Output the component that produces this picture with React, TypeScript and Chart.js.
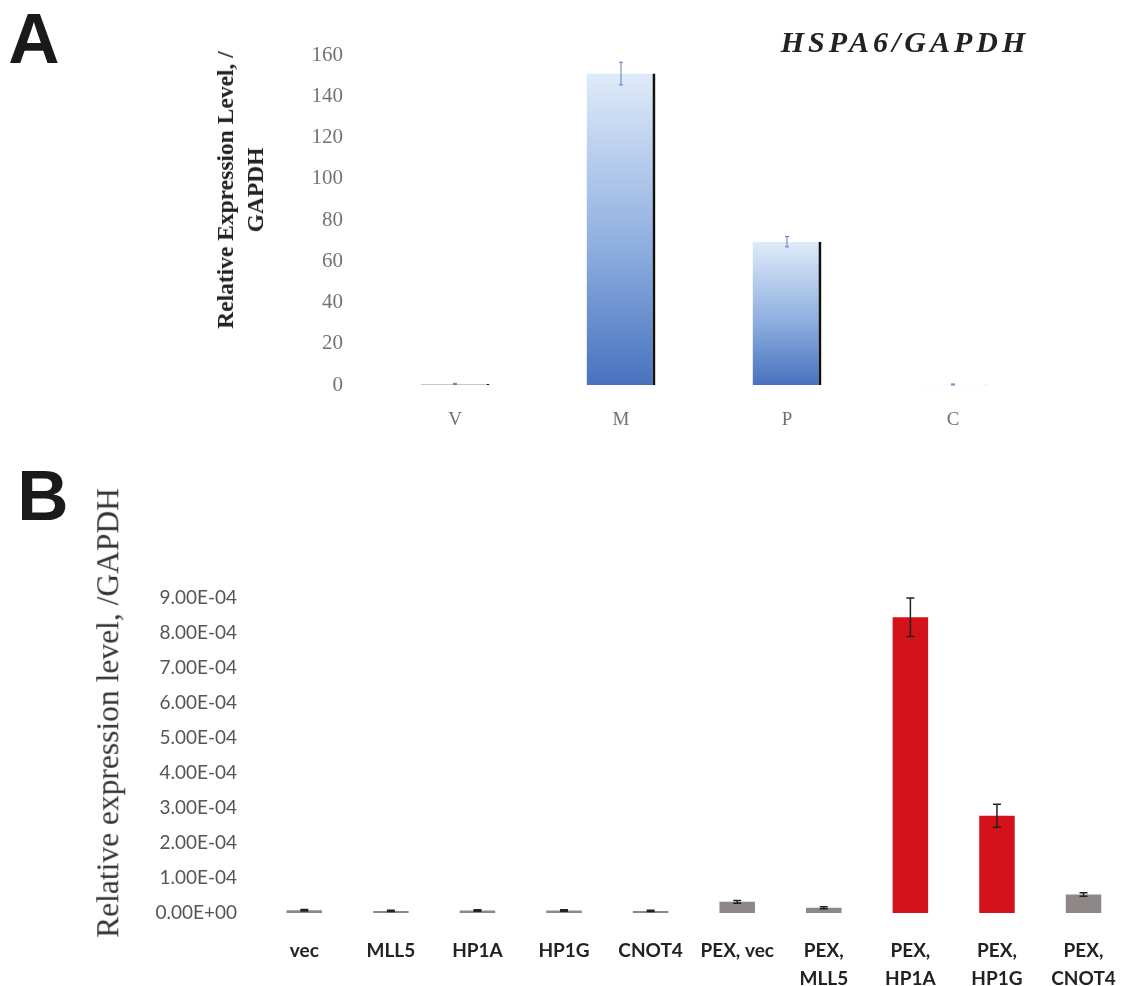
import React, { useEffect, useRef } from 'react';
import { Chart, registerables } from 'chart.js';

Chart.register(...registerables);

// ---------- Panel A data ----------
const categoriesA = ['V', 'M', 'P', 'C'];
const valuesA = [0.5, 151, 69.5, 0.1];
const errorsA = [0.3, 5.5, 2.5, 0.4];
const yMaxA = 160;
const yStepA = 20;

// ---------- Panel B data ----------
const categoriesB: (string | string[])[] = [
  'vec',
  'MLL5',
  'HP1A',
  'HP1G',
  'CNOT4',
  'PEX, vec',
  ['PEX,', 'MLL5'],
  ['PEX,', 'HP1A'],
  ['PEX,', 'HP1G'],
  ['PEX,', 'CNOT4'],
];
const valuesB = [8e-6, 6e-6, 7e-6, 7e-6, 6e-6, 3.2e-5, 1.5e-5, 8.45e-4, 2.78e-4, 5.3e-5];
const errorsB = [2e-6, 2e-6, 2e-6, 2e-6, 2e-6, 4e-6, 3e-6, 5.5e-5, 3.3e-5, 5e-6];
const yMaxB = 9e-4;
const yStepB = 1e-4;

// styles
const GRAY_B = '#8e8787';
const RED_B = '#d3121a';
const barColorsB = valuesB.map((_, i) => (i === 7 || i === 8 ? RED_B : GRAY_B));

const fmtExp = (v: number) => {
  if (Math.abs(v) < 1e-12) return '0.00E+00';
  const e = Math.floor(Math.log10(Math.abs(v)) + 1e-9);
  const m = v / Math.pow(10, e);
  return m.toFixed(2) + 'E' + (e < 0 ? '-' : '+') + String(Math.abs(e)).padStart(2, '0');
};

const errorBarPlugin = {
  id: 'errorBars',
  afterDatasetsDraw(chart: any, _args: any, opts: any) {
    const errs: number[] = opts.errors;
    if (!errs) return;
    const meta = chart.getDatasetMeta(0);
    const yScale = chart.scales.y;
    const data = chart.data.datasets[0].data as number[];
    const ctx = chart.ctx;
    ctx.save();
    ctx.strokeStyle = opts.color;
    ctx.lineWidth = opts.width;
    meta.data.forEach((bar: any, i: number) => {
      const v = data[i];
      const e = errs[i];
      const x = bar.x;
      const yHi = yScale.getPixelForValue(v + e);
      const yLo = yScale.getPixelForValue(Math.max(0, v - e));
      ctx.beginPath();
      ctx.moveTo(x, yHi);
      ctx.lineTo(x, yLo);
      ctx.moveTo(x - opts.cap, yHi);
      ctx.lineTo(x + opts.cap, yHi);
      ctx.moveTo(x - opts.cap, yLo);
      ctx.lineTo(x + opts.cap, yLo);
      ctx.stroke();
    });
    ctx.restore();
  },
};

function ChartA() {
  const ref = useRef<HTMLCanvasElement>(null);
  useEffect(() => {
    if (!ref.current) return;
    const chart = new Chart(ref.current, {
      type: 'bar',
      data: {
        labels: categoriesA,
        datasets: [
          {
            data: valuesA,
            backgroundColor: (c: any) => {
              const ch = c.chart;
              const area = ch.chartArea;
              if (!area || c.type !== 'data') return '#7fa2da';
              const y = ch.scales.y;
              const top = y.getPixelForValue(c.raw);
              const bottom = y.getPixelForValue(0);
              if (!isFinite(top) || bottom - top < 2) return '#c8c8c8';
              const g = ch.ctx.createLinearGradient(0, top, 0, bottom);
              g.addColorStop(0, '#dfebf9');
              g.addColorStop(0.55, '#8fafe0');
              g.addColorStop(1, '#4772be');
              return g;
            },
            borderColor: '#111',
            borderWidth: { top: 0, right: 3, bottom: 0, left: 0 } as any,
            borderSkipped: false as any,
            categoryPercentage: 1,
            barPercentage: 0.415,
          },
        ],
      },
      options: {
        responsive: false,
        animation: false,
        layout: { padding: { top: 55, right: 93, left: 0, bottom: 0 } },
        plugins: {
          legend: { display: false },
          tooltip: { enabled: false },
          errorBars: { errors: errorsA, color: '#5a7cc0', width: 1, cap: 2 },
        } as any,
        scales: {
          x: {
            grid: { display: false, drawTicks: false },
            border: { display: false },
            ticks: {
              padding: 24,
              color: '#707070',
              font: { family: 'Liberation Serif', size: 19 },
            },
            afterFit: (s: any) => {
              s.height = 55;
            },
          },
          y: {
            min: 0,
            max: yMaxA,
            grid: { display: false, drawTicks: false },
            border: { display: false },
            ticks: {
              stepSize: yStepA,
              padding: 29,
              color: '#737373',
              font: { family: 'Liberation Serif', size: 21 },
            },
            afterFit: (s: any) => {
              s.width = 372;
            },
          },
        },
      },
      plugins: [errorBarPlugin],
    });
    return () => chart.destroy();
  }, []);
  return (
    <canvas
      ref={ref}
      width={1129}
      height={440}
      style={{ position: 'absolute', left: 0, top: 0, width: 1129, height: 440 }}
    />
  );
}

function ChartB() {
  const ref = useRef<HTMLCanvasElement>(null);
  useEffect(() => {
    if (!ref.current) return;
    const chart = new Chart(ref.current, {
      type: 'bar',
      data: {
        labels: categoriesB as any,
        datasets: [
          {
            data: valuesB,
            backgroundColor: barColorsB,
            borderWidth: 0,
            categoryPercentage: 1,
            barPercentage: 0.41,
          },
        ],
      },
      options: {
        responsive: false,
        animation: false,
        layout: { padding: { top: 38, right: 4, left: 0, bottom: 0 } },
        plugins: {
          legend: { display: false },
          tooltip: { enabled: false },
          errorBars: { errors: errorsB, color: '#222', width: 1.5, cap: 4 },
        } as any,
        scales: {
          x: {
            grid: { display: false, drawTicks: false },
            border: { display: false },
            ticks: {
              padding: 24,
              color: '#222',
              maxRotation: 0,
              autoSkip: false,
              font: { family: 'Lato', size: 19, weight: 'bold', lineHeight: 1.47 },
            },
            afterFit: (s: any) => {
              s.height = 73;
            },
          },
          y: {
            min: 0,
            max: yMaxB,
            grid: { display: false, drawTicks: false },
            border: { display: false },
            ticks: {
              stepSize: yStepB,
              padding: 24,
              color: '#555',
              font: { family: 'Lato', size: 19 },
              callback: (v: any) => fmtExp(Number(v)),
            },
            afterFit: (s: any) => {
              s.width = 261;
            },
          },
        },
      },
      plugins: [errorBarPlugin],
    });
    return () => chart.destroy();
  }, []);
  return (
    <canvas
      ref={ref}
      width={1140}
      height={426}
      style={{ position: 'absolute', left: 0, top: 560, width: 1140, height: 426 }}
    />
  );
}

const centered = (x: number, y: number, rot = 0): React.CSSProperties => ({
  position: 'absolute',
  left: x,
  top: y,
  transform: `translate(-50%, -50%) rotate(${rot}deg)`,
  whiteSpace: 'nowrap',
});

export default function App() {
  return (
    <div
      style={{
        position: 'fixed',
        left: 0,
        top: 0,
        width: 1129,
        height: 986,
        overflow: 'hidden',
        background: '#fff',
      }}
    >
      <ChartA />
      <ChartB />
      <div
        style={{
          ...centered(34, 38),
          fontFamily: 'Liberation Sans',
          fontWeight: 'bold',
          fontSize: 71,
          lineHeight: 1,
          color: '#1a1a1a',
        }}
      >
        A
      </div>
      <div
        style={{
          ...centered(43, 495),
          fontFamily: 'Liberation Sans',
          fontWeight: 'bold',
          fontSize: 71,
          lineHeight: 1,
          color: '#1a1a1a',
        }}
      >
        B
      </div>
      <div
        style={{
          ...centered(905, 42),
          fontFamily: 'Liberation Serif',
          fontWeight: 'bold',
          fontStyle: 'italic',
          fontSize: 30,
          letterSpacing: 4,
          lineHeight: 1,
          color: '#222',
        }}
      >
        HSPA6/GAPDH
      </div>
      <div
        style={{
          ...centered(240, 190, -90),
          fontFamily: 'Liberation Serif',
          fontWeight: 'bold',
          fontSize: 23.5,
          lineHeight: '30px',
          textAlign: 'center',
          color: '#222',
        }}
      >
        Relative Expression Level, /
        <br />
        GAPDH
      </div>
      <div
        style={{
          ...centered(108, 713, -90),
          fontFamily: 'Liberation Serif',
          fontSize: 31.5,
          lineHeight: 1,
          color: '#333',
        }}
      >
        Relative expression level, /GAPDH
      </div>
    </div>
  );
}
